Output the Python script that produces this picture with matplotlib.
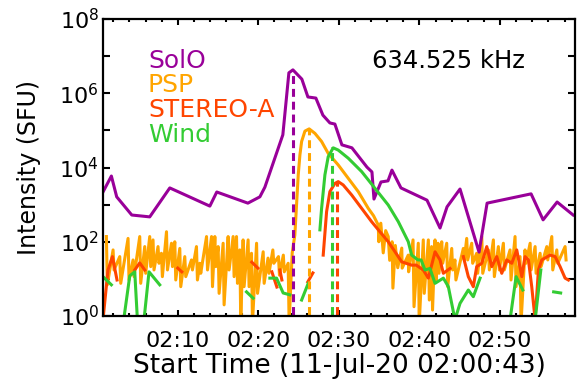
import numpy as np
import matplotlib
matplotlib.use("Agg")
import matplotlib.pyplot as plt
from matplotlib.ticker import FixedLocator, NullFormatter, FixedFormatter

# ---- data: time in minutes after 02:00:00, intensity as log10(SFU) ----
solo_t = [0.72, 1.76, 2.42, 4.29, 6.52, 9.01, 13.98, 14.84, 18.70, 20.19, 20.81, 23.04,
          23.79, 24.29, 25.40, 26.15, 27.14, 28.01, 28.88, 29.50, 30.37, 31.61, 33.48,
          34.10, 34.35, 35.22, 36.09, 36.58, 37.70, 40.93, 42.55, 43.42, 45.03, 47.39,
          48.39, 53.85, 55.34, 57.08, 59.07]
solo_log = [3.34, 3.77, 3.21, 2.72, 2.67, 3.45, 2.96, 3.34, 3.04, 3.21, 3.47, 4.88,
            6.55, 6.63, 6.38, 5.90, 5.87, 5.41, 5.20, 5.17, 4.61, 4.53, 4.01,
            3.88, 3.15, 3.61, 3.64, 3.93, 3.45, 3.12, 2.37, 2.94, 3.42, 1.72,
            3.04, 3.29, 2.59, 3.07, 2.72]

# PSP burst profile
psp_t = [24.2, 24.53, 24.74, 24.95, 25.16, 25.37, 25.78, 26.31, 27.02, 27.85, 28.67,
         29.91, 31.16, 32.40, 33.64, 34.30, 34.88, 34.95, 35.20, 35.50, 35.80, 36.12,
         36.30, 36.60, 36.70, 37.00, 37.30, 37.80, 37.85, 38.60, 38.65]
psp_log = [1.70, 2.18, 2.99, 3.80, 4.34, 4.70, 4.98, 5.04, 4.92, 4.70, 4.38,
           4.07, 3.71, 3.35, 2.90, 2.70, 2.45, 2.00, 2.50, 1.70, 2.30, 2.14,
           1.50, 2.00, 0.75, 1.90, 1.30, 1.83, 1.29, 1.64, 1.19]
# PSP background fluctuations (time, upper, lower in log10 SFU)
psp_noise_t = [1.14, 1.97, 2.80, 3.83, 4.45, 5.28, 5.90, 6.52, 6.93, 7.55, 7.97, 8.60,
               9.22, 9.63, 10.25, 10.87, 11.70, 12.32, 12.73, 13.57, 14.19, 14.60, 15.01,
               15.63, 16.25, 16.87, 17.29, 17.70, 18.11, 18.73, 19.15, 19.78, 20.60, 21.20,
               21.80, 22.50, 23.10, 23.70, 39.20, 39.85, 40.47, 41.10, 41.50, 41.93, 42.30,
               42.76, 43.38, 44.00, 44.40, 45.44, 45.86, 46.48, 47.10, 47.73, 48.55, 49.17,
               49.79, 50.41, 51.24, 51.86, 52.48, 53.10, 53.73, 54.35, 54.97, 55.80, 56.42,
               57.04, 58.07]
psp_noise_hi = [2.14, 1.78, 1.60, 2.09, 1.51, 2.14, 1.87, 2.14, 2.05, 1.87, 1.69, 2.27,
                1.96, 2.00, 1.82, 1.60, 1.51, 1.87, 1.42, 2.14, 2.14, 2.14, 1.87,
                1.96, 2.14, 2.14, 2.14, 1.78, 2.05, 2.05, 1.69, 1.96, 1.73, 1.56,
                1.78, 1.60, 1.64, 1.42, 2.05, 1.96, 2.05, 2.05, 1.87, 2.05, 1.96,
                2.00, 1.96, 1.82, 1.51, 1.82, 2.09, 1.96, 1.69, 2.14, 1.78, 2.05,
                1.87, 1.96, 1.78, 2.14, 1.60, 1.78, 1.96, 1.87, 1.69, 1.87, 2.14,
                1.78, 1.87]
psp_noise_lo = [0.84, 1.24, 0.88, 0.97, 1.06, 0.88, 1.15, 1.33, 1.24, 1.42, 1.06, 1.24,
                1.33, 0.97, 0.79, 1.06, 1.24, 0.97, 1.15, 1.24, 0.79, 1.33, 0.61,
                0.30, 1.24, 1.06, 0.88, -0.2, 0.79, 0.79, -0.2, 0.61, 0.88, 1.15,
                1.42, 1.10, 1.19, -0.2, 0.25, -0.2, 0.61, 0.43, 0.16, 0.97, 1.15,
                1.42, 0.79, 1.24, 0.97, 1.51, 1.51, 1.42, 1.15, 1.15, 1.24, 1.06,
                1.24, 1.24, 0.97, 0.79, -0.2, 1.42, 1.24, 1.15, 1.33, 1.51, 1.24,
                1.42, 1.51]

nan = np.nan
stereo_t = [0.72, 1.34, 1.89, 2.46, nan, 4.66, 5.28, 5.90, nan, 10.0, 10.5, nan,
            19.19, 19.94, nan, 21.68, 22.30, nan, 22.67, 22.92, nan, 26.14, 26.77, nan,
            28.05, 28.47, 28.88, 29.50, 29.91, 30.53, 31.58, 32.82, 34.06, 35.09, 36.12,
            36.96, 37.79, 39.03, 39.60, 40.47, 41.10, 41.93, 42.55, 42.96, 43.79, nan,
            45.44, 46.06, 46.68, 47.10, 47.73, 48.35, 48.97, 49.59, 50.21, 50.83, 51.45,
            52.07, 52.70, 53.10, 53.52, 53.93, 54.35, 54.76, 55.18, 56.21, 56.83, 57.45,
            58.07, 58.48]
stereo_log = [-0.1, 1.24, 1.60, 0.97, nan, 1.24, 1.43, 1.24, nan, 1.29, 1.19, nan,
              1.45, 1.29, nan, 1.19, 0.78, nan, 1.24, 0.97, nan, 0.92, 1.16, nan,
              1.64, 2.81, 3.35, 3.57, 3.62, 3.53, 3.26, 2.90, 2.54, 2.27, 2.00,
              1.73, 1.46, 1.37, 1.37, 1.24, 1.02, 1.73, 1.51, 1.15, 1.28, nan,
              1.60, 1.06, 0.79, 1.33, 1.42, 1.87, 1.33, 1.60, 1.15, 1.51, 1.42,
              1.78, 1.06, 1.60, 1.51, 0.79, -0.1, 1.24, 1.51, 1.64, 1.60, 1.33,
              1.02, 0.97]

wind_t = [0.72, 1.76, nan, 3.29, 4.04, 4.66, 4.99, nan, 5.81, 6.43, 7.76, nan,
          18.53, 19.35, nan, 21.43, 22.26, 23.08, 23.91, nan, 25.37, 26.19, nan,
          27.64, 27.85, 28.26, 28.67, 29.29, 29.91, 31.16, 32.82, 34.47, 36.12, 37.37,
          38.61, 39.03, 39.80, 40.20, 40.68, 41.30, 41.93, 42.96, 43.58, 44.40, 45.03,
          46.06, 46.68, 47.52, nan, 51.24, 51.99, 52.82, nan, 54.35, 55.06, nan,
          56.65, 57.52]
wind_log = [1.06, 0.84, nan, -0.1, 1.08, 1.19, -0.1, nan, -0.1, 1.19, 0.84, nan,
            0.65, 0.48, nan, 1.02, 1.02, 0.62, 0.57, nan, 0.43, 0.88, nan,
            2.32, 2.90, 3.80, 4.29, 4.53, 4.47, 4.25, 3.89, 3.44, 2.99, 2.54,
            2.00, 1.64, 1.51, 1.51, 1.24, 1.28, 0.88, 1.02, 0.79, -0.1, 0.34,
            0.70, 0.52, 1.02, nan, -0.1, 1.06, 0.70, nan, -0.1, 1.24, nan,
            0.65, 0.62]

# peak times (minutes after 02:00) and peak log10 intensities: SolO, PSP, STEREO-A, Wind
peak_t = [24.29, 26.31, 29.81, 29.13]
peak_log = [6.63, 5.04, 3.62, 4.55]

labels = ["SolO", "PSP", "STEREO-A", "Wind"]
colors = ["#990099", "#FFA500", "#FF4500", "#33CC33"]
xtick_pos = [10, 20, 30, 40, 50]
xtick_labels = ["02:10", "02:20", "02:30", "02:40", "02:50"]
ytick_pos = [1e0, 1e2, 1e4, 1e6, 1e8]
ytick_labels = [r"$10^{0}$", r"$10^{2}$", r"$10^{4}$", r"$10^{6}$", r"$10^{8}$"]
freq_label = "634.525 kHz"
xlabel = "Start Time (11-Jul-20 02:00:43)"
ylabel = "Intensity (SFU)"

# ---- build the full PSP trace: background fluctuations + burst, in time order ----
full_t, full_v = [], []
burst_done = False
for t, hi, lo in zip(psp_noise_t, psp_noise_hi, psp_noise_lo):
    if t > psp_t[-1] and not burst_done:
        full_t += psp_t
        full_v += psp_log
        burst_done = True
    full_t += [t, t + 0.12]
    full_v += [hi, lo]

# ---- figure ----
fig = plt.figure(figsize=(5.78, 3.8), dpi=100)
ax = fig.add_axes([103 / 578, 1 - 316 / 380, (575 - 103) / 578, (316 - 19) / 380])

lw = 2.2
def p(v):
    return np.power(10.0, np.array(v, dtype=float))

ax.plot(full_t, p(full_v), color=colors[1], lw=lw)
ax.plot(solo_t, p(solo_log), color=colors[0], lw=lw)
ax.plot(stereo_t, p(stereo_log), color=colors[2], lw=lw)
ax.plot(wind_t, p(wind_log), color=colors[3], lw=lw)

for t, v, c in zip(peak_t, peak_log, colors):
    ax.plot([t, t], [1e-1, 10 ** v], color=c, lw=lw, linestyle=(0, (2.6, 1.6)))

ax.set_yscale("log")
ax.set_xlim(0.72, 59.3)
ax.set_ylim(1e0, 1e8)

ax.xaxis.set_major_locator(FixedLocator(xtick_pos))
ax.xaxis.set_major_formatter(FixedFormatter(xtick_labels))
ax.xaxis.set_minor_locator(FixedLocator(np.arange(2, 59, 2)))
ax.yaxis.set_major_locator(FixedLocator(ytick_pos))
ax.yaxis.set_major_formatter(FixedFormatter(ytick_labels))
ax.yaxis.set_minor_locator(FixedLocator([1e1, 1e3, 1e5, 1e7]))
ax.yaxis.set_minor_formatter(NullFormatter())

ax.tick_params(axis="both", which="both", direction="in", top=True, right=True,
               width=1.5, colors="black")
ax.tick_params(axis="x", which="major", length=4.5, labelsize=16, pad=11)
ax.tick_params(axis="x", which="minor", length=2.5)
ax.tick_params(axis="y", which="both", length=5, labelsize=16, pad=3)
for s in ax.spines.values():
    s.set_linewidth(1.6)

ax.set_xlabel(xlabel, fontsize=19, labelpad=1.2)
ax.set_ylabel(ylabel, fontsize=17, labelpad=13)

for i, (lab, c) in enumerate(zip(labels, colors)):
    ax.text(148 / 578, 1 - (68 + 24.5 * i) / 380, lab, color=c, fontsize=18,
            transform=fig.transFigure, ha="left", va="baseline")
ax.text(372 / 578, 1 - 68 / 380, freq_label, color="black", fontsize=17.5,
        transform=fig.transFigure, ha="left", va="baseline")

fig.savefig("out.png", dpi=100)
